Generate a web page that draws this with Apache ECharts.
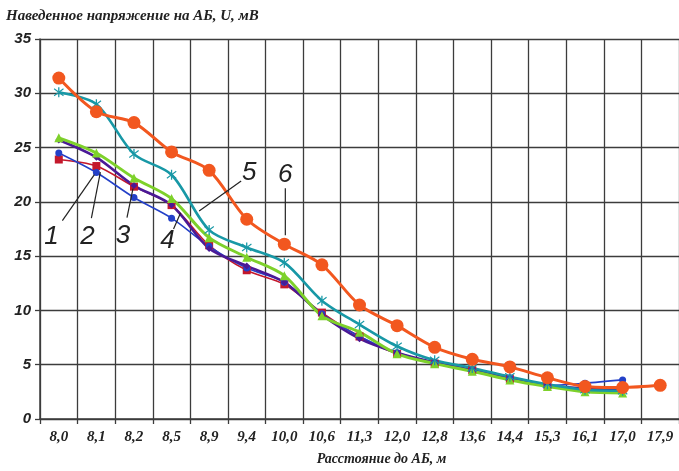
<!DOCTYPE html>
<html><head><meta charset="utf-8">
<script src="https://cdn.jsdelivr.net/npm/echarts@6/dist/echarts.min.js"></script>
<style>html,body{margin:0;padding:0;background:#fff}#c{width:679px;height:471px}</style>
</head><body><div id="c"></div>
<script>
var categories = ['8,0','8,1','8,2','8,5','8,9','9,4','10,0','10,6','11,3','12,0','12,8','13,6','14,4','15,3','16,1','17,0','17,9'];
var s1 = [24.5, 22.7, 20.4, 18.5, 15.9, 13.9, 12.6, 9.7, 7.6, 6.1, 5.2, 4.5, 3.8, 3.1, 3.3, 3.6];
var s2 = [23.9, 23.3, 21.4, 19.7, 16.0, 13.7, 12.4, 9.8, 7.6, 6.0, 5.1, 4.5, 3.7, 3.1, 2.8, 2.8];
var s3 = [25.7, 24.1, 21.5, 19.7, 15.7, 14.1, 12.6, 9.6, 7.4, 6.1, 5.2, 4.5, 3.7, 3.1, 2.8, 2.7];
var s4 = [25.9, 24.5, 22.2, 20.3, 16.7, 14.9, 13.2, 9.5, 8.0, 6.0, 5.1, 4.4, 3.6, 3.0, 2.5, 2.4];
var s5 = [30.1, 29.0, 24.4, 22.5, 17.4, 15.8, 14.4, 10.9, 8.7, 6.7, 5.4, 4.7, 3.9, 3.2, 2.7, 2.6];
var s6 = [31.4, 28.3, 27.3, 24.6, 22.9, 18.4, 16.1, 14.2, 10.5, 8.6, 6.6, 5.5, 4.8, 3.8, 3.0, 2.9, 3.1];
var seriesNames = ['1','2','3','4','5','6'];

var asterisk = 'path://M4.4,0h1.2v10h-1.2z M0.3,2.0 L0.9,1.0 L9.7,8.0 L9.1,9.0z M0.3,8.0 L0.9,9.0 L9.7,2.0 L9.1,1.0z';

var chart = echarts.init(document.getElementById('c'));
var gridColor = '#3c3c3c';
var serifFont = '"Liberation Serif", "DejaVu Serif", serif';
var sansFont = '"Liberation Sans", Arial, sans-serif';

function mk(name, data, color, width, symbol, size) {
  return {name: name, type: 'line', data: data, smooth: 0.3, symbol: symbol, symbolSize: size,
    lineStyle: {color: color, width: width}, itemStyle: {color: color}};
}

chart.setOption({
  animation: false,
  backgroundColor: '#fff',
  grid: {left: 40, right: -2, top: 39, bottom: 48},
  graphic: [],
  xAxis: {
    type: 'category', data: categories, boundaryGap: true,
    name: 'Расстояние до АБ, м', nameLocation: 'middle', nameGap: 33,
    nameTextStyle: {fontFamily: serifFont, fontStyle: 'italic', fontWeight: 'bold', fontSize: 14, color: '#222', padding: [0, 0, 0, 44]},
    axisLine: {lineStyle: {color: gridColor, width: 1.5}},
    axisTick: {show: true, length: 5, lineStyle: {color: gridColor, width: 1.3}},
    splitLine: {show: true, lineStyle: {color: gridColor, width: 1.3}},
    axisLabel: {fontFamily: serifFont, fontStyle: 'italic', fontWeight: 'bold', fontSize: 15, color: '#222', margin: 11, interval: 0}
  },
  yAxis: {
    type: 'value', min: 0, max: 35, interval: 5,
    axisLine: {show: true, lineStyle: {color: gridColor, width: 1.5}},
    axisTick: {show: true, length: 5, lineStyle: {color: gridColor, width: 1.3}},
    splitLine: {show: true, lineStyle: {color: gridColor, width: 1.3}},
    axisLabel: {fontFamily: sansFont, fontStyle: 'italic', fontWeight: 'bold', fontSize: 15, color: '#222', margin: 9}
  },
  series: [
    mk(seriesNames[1], s2, '#c4182c', 1.6, 'rect', 8),
    mk(seriesNames[0], s1, '#2340c8', 1.6, 'circle', 7),
    mk(seriesNames[2], s3, '#4a1996', 2.6, 'diamond', 7),
    mk(seriesNames[3], s4, '#7ed12b', 3, 'triangle', 9),
    mk(seriesNames[4], s5, '#1898a6', 2.6, asterisk, 10),
    mk(seriesNames[5], s6, '#f2571f', 3, 'circle', 13)
  ]
});

// annotation labels with leader lines, anchored to data points
var annotations = [
  {text: '1', data: s1, idx: 1, end: [-2, 2], start: [-34, 48], label: [-45, 64]},
  {text: '2', data: s2, idx: 1, end: [4, 6], start: [-5, 52], label: [-9, 71]},
  {text: '3', data: s3, idx: 2, end: [-1, 3], start: [-7, 32], label: [-11, 50]},
  {text: '4', data: s3, idx: 3, end: [9, 8], start: [2, 24], label: [-4, 36]},
  {text: '5', data: s5, idx: 4, end: [-10, -19], start: [32, -49], label: [40, -57]},
  {text: '6', data: s6, idx: 6, end: [1, -9], start: [1, -56], label: [1, -69]}
];
var g = [];
annotations.forEach(function (a) {
  var p = chart.convertToPixel({gridIndex: 0}, [a.idx, a.data[a.idx]]);
  g.push({type: 'line', silent: true, z: 100,
    shape: {x1: p[0] + a.start[0], y1: p[1] + a.start[1], x2: p[0] + a.end[0], y2: p[1] + a.end[1]},
    style: {stroke: '#222', lineWidth: 1.2}});
  g.push({type: 'text', silent: true, z: 100, x: p[0] + a.label[0], y: p[1] + a.label[1],
    style: {text: a.text, font: 'italic 26px "Liberation Sans", Arial, sans-serif', fill: '#222', align: 'center', verticalAlign: 'middle'}});
});
g.push({type: 'text', left: 6, top: 9, silent: true,
  style: {text: 'Наведенное напряжение на АБ, U, мВ', font: 'italic bold 15px "Liberation Serif", "DejaVu Serif", serif', fill: '#222'}});
chart.setOption({graphic: g});
</script></body></html>
